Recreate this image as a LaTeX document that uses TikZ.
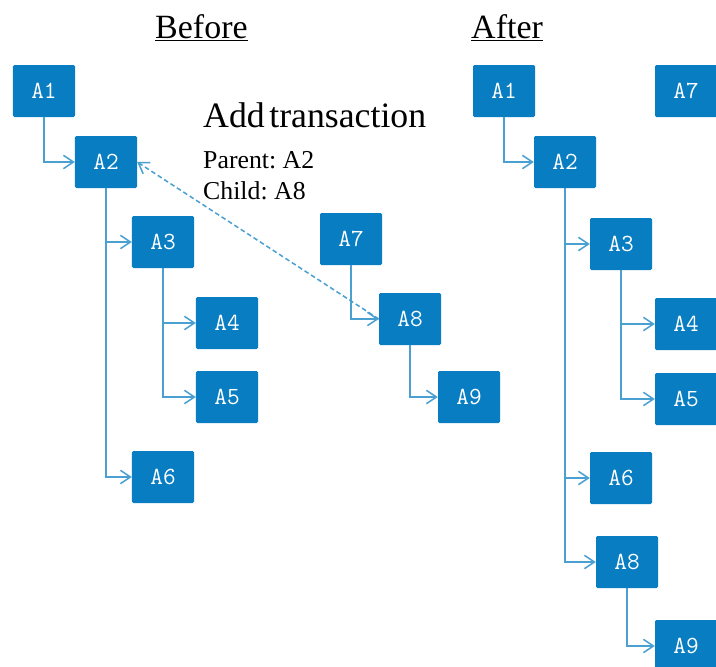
\documentclass[tikz,border=0pt]{standalone}
\usepackage{fontspec}
\setmainfont{Liberation Serif}
\usetikzlibrary{arrows.meta}

\definecolor{boxblue}{RGB}{8,125,194}
\definecolor{linkblue}{RGB}{75,160,210}

\tikzset{
  blk/.style={rectangle, rounded corners=1.2pt, fill=boxblue, text=white,
    minimum width=1.86cm, minimum height=1.56cm, inner sep=0pt,
    font=\ttfamily\fontsize{21}{22}\selectfont},
  link/.style={draw=linkblue, line width=1.3pt,
    -{Straight Barb[length=3mm,width=4mm,line width=1.3pt]}},
  title/.style={anchor=base west, inner sep=0pt, font=\fontsize{29}{30}\selectfont}
}

\begin{document}
\frenchspacing
\begin{tikzpicture}[x=0.03cm, y=-0.03cm]
  \useasboundingbox (0,0) rectangle (716,667);
  \clip (0,0) rectangle (716,667);

  % Headings
  \node[title] (before) at (155,38) {\underline{Before}};
  \node[title] (after) at (471,38) {\underline{After}};

  % Transaction text
  \node[title, font=\fontsize{30.5}{32}\selectfont] (add) at (203,127) {Add\hspace{-0.12em} transaction};
  \node[title, font=\fontsize{22}{23}\selectfont] (parent) at (203,168) {Parent: A2};
  \node[title, font=\fontsize{22}{23}\selectfont] (child) at (203,199) {Child: A8};

  % Before tree
  \node[blk] (a1) at (44,91) {A1};
  \node[blk] (a2) at (106,162) {A2};
  \node[blk] (a3) at (163,242) {A3};
  \node[blk] (a4) at (227,323) {A4};
  \node[blk] (a5) at (227,397) {A5};
  \node[blk] (a6) at (163,477) {A6};
  \node[blk] (a7) at (351,239) {A7};
  \node[blk] (a8) at (410,319) {A8};
  \node[blk] (a9) at (469,397) {A9};

  \draw[link] (a1.south) |- (a2.west);
  \draw[link] (a2.south) |- (a3.west);
  \draw[link] (a2.south) |- (a6.west);
  \draw[link] (a3.south) |- (a4.west);
  \draw[link] (a3.south) |- (a5.west);
  \draw[link] (a7.south) |- (a8.west);
  \draw[link] (a8.south) |- (a9.west);

  % new link A8 -> A2
  \draw[link, dash pattern=on 4pt off 2.5pt] (a8.west) -- (a2.east);

  % After tree
  \node[blk] (b1) at (504,91) {A1};
  \node[blk] (b7) at (686,91) {A7};
  \node[blk] (b2) at (565,162) {A2};
  \node[blk] (b3) at (621,244) {A3};
  \node[blk] (b4) at (686,324) {A4};
  \node[blk] (b5) at (686,399) {A5};
  \node[blk] (b6) at (621,478) {A6};
  \node[blk] (b8) at (627,562) {A8};
  \node[blk] (b9) at (686,646) {A9};

  \draw[link] (b1.south) |- (b2.west);
  \draw[link] (b2.south) |- (b3.west);
  \draw[link] (b2.south) |- (b6.west);
  \draw[link] (b2.south) |- (b8.west);
  \draw[link] (b3.south) |- (b4.west);
  \draw[link] (b3.south) |- (b5.west);
  \draw[link] (b8.south) |- (b9.west);
\end{tikzpicture}
\end{document}
